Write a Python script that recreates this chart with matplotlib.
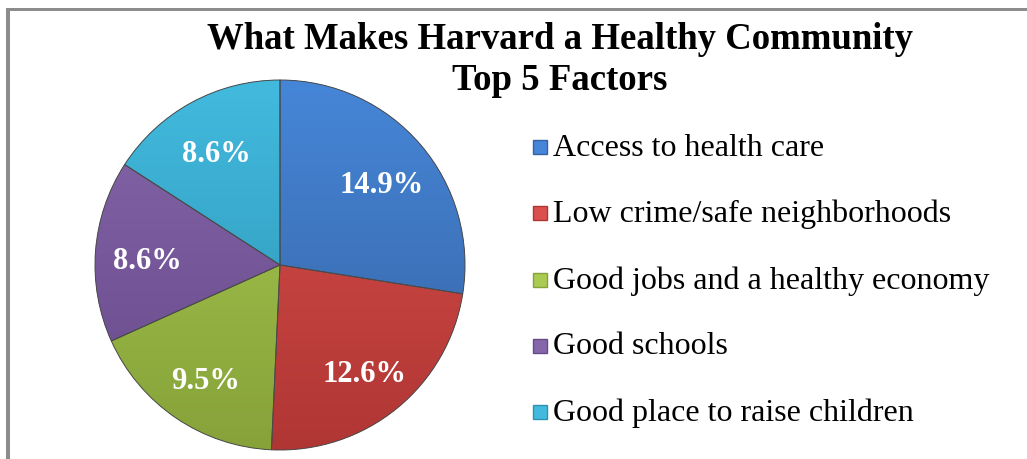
import numpy as np
import matplotlib.pyplot as plt
import matplotlib.colors as mcolors
from matplotlib.patches import Rectangle, Wedge

factors = ["Access to health care", "Low crime/safe neighborhoods",
           "Good jobs and a healthy economy", "Good schools",
           "Good place to raise children"]
shares = [14.9, 12.6, 9.5, 8.6, 8.6]
share_labels = ["14.9%", "12.6%", "9.5%", "8.6%", "8.6%"]

# light / dark tones for each slice gradient
tones_light = ["#4686d8", "#d9504c", "#aacb52", "#8566aa", "#42bade"]
tones_dark = ["#3562a0", "#b03634", "#86a239", "#674a8a", "#2b92b2"]

serif = "Liberation Serif"

fig = plt.figure(figsize=(10.27, 4.6), dpi=100)
W, H = 1027, 460

# frame line (left and top)
fig.patches.append(Rectangle((6 / W, 0), 4 / W, (H - 9) / H, transform=fig.transFigure,
                             color="#8c8c8c", lw=0))
fig.patches.append(Rectangle((6 / W, (H - 12) / H), (W - 6) / W, 3 / H,
                             transform=fig.transFigure, color="#8c8c8c", lw=0))

cx, cy, r = 280, 266, 185
half = 195
ax = fig.add_axes([(cx - half) / W, (H - cy - half) / H, 2 * half / W, 2 * half / H])
lim = half / r
ax.set_aspect("equal")
ax.axis("off")

wedges, _ = ax.pie(shares, startangle=90, counterclock=False, radius=1.0,
                   colors=tones_light, wedgeprops=dict(edgecolor="none"))
ax.set_xlim(-lim, lim)
ax.set_ylim(-lim, lim)

yy = np.linspace(1, 0, 200)[:, None] * np.ones((1, 2))
for w, lt, dk in zip(wedges, tones_light, tones_dark):
    cmap = mcolors.LinearSegmentedColormap.from_list("g", [dk, lt])
    im = ax.imshow(yy, cmap=cmap, extent=[-1, 1, -1, 1], origin="upper",
                   aspect="auto", zorder=2, interpolation="bilinear")
    im.set_clip_path(w)
    # outline on top of the gradient
    ax.add_patch(Wedge(w.center, w.r, w.theta1, w.theta2, fill=False,
                       edgecolor="#4a4a4a", lw=0.7, zorder=3))

total = sum(shares)
angle = 90.0
for s, lab in zip(shares, share_labels):
    span = s / total * 360
    mid = np.deg2rad(angle - span / 2)
    angle -= span
    ax.text(0.72 * np.cos(mid), 0.72 * np.sin(mid) - 0.03, lab, ha="center",
            va="center", color="white", fontsize=22, fontweight="bold",
            family=serif, zorder=4)

fig.text(560 / W, 1 - 22 / H, "What Makes Harvard a Healthy Community\nTop 5 Factors",
         ha="center", va="top", fontsize=26.5, fontweight="bold", family=serif,
         linespacing=1.22)

rows = [148, 214, 281, 347, 413]
for name, lt, dk, y in zip(factors, tones_light, tones_dark, rows):
    fig.patches.append(Rectangle((533 / W, (H - y - 7) / H), 14 / W, 14 / H,
                                 transform=fig.transFigure, facecolor=lt,
                                 edgecolor=dk, lw=1))
    fig.text(553 / W, (H - y) / H, name, ha="left", va="center", fontsize=23,
             family=serif)

fig.savefig("out.png", dpi=100)
